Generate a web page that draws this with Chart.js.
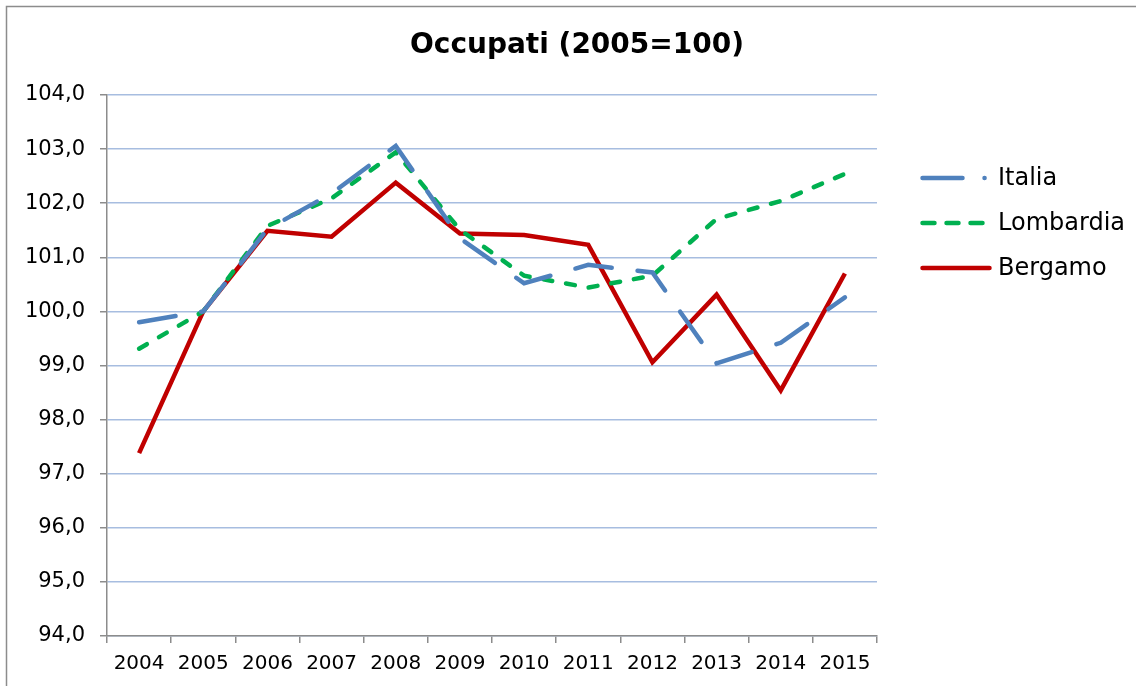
<!DOCTYPE html>
<html>
<head>
<meta charset="utf-8">
<script src="https://cdn.jsdelivr.net/npm/chart.js@4.4.1/dist/chart.umd.min.js"></script>
<style>
  html, body { margin: 0; padding: 0; background: #fff; overflow: hidden; }
  #wrap { width: 1136px; height: 686px; position: relative; }
</style>
</head>
<body>
<div id="wrap"><canvas id="occupatiChart" width="1136" height="686"></canvas></div>
<script>
// ========== DATI ==========
const anni = ['2004', '2005', '2006', '2007', '2008', '2009', '2010', '2011', '2012', '2013', '2014', '2015'];
const italia =     [99.80, 100.0, 101.52, 102.18, 103.06, 101.35, 100.52, 100.86, 100.72, 99.04, 99.42, 100.26];
const lombardia =  [99.31, 100.0, 101.58, 102.09, 102.94, 101.51, 100.66, 100.44, 100.66, 101.71, 102.04, 102.54];
const bergamo =    [97.38, 100.0, 101.49, 101.38, 102.38, 101.44, 101.41, 101.23, 99.06, 100.31, 98.54, 100.70];
const serie = ['Italia', 'Lombardia', 'Bergamo'];
const titolo = 'Occupati (2005=100)';
const yMin = 94, yMax = 104;

// bordo esterno + titolo
const bordoPlugin = {
    id: 'bordo',
    beforeDraw(chart) {
        const c = chart.ctx;
        c.save();
        c.fillStyle = '#fff';
        c.fillRect(0, 0, chart.width, chart.height);
        c.strokeStyle = '#8c8c8c';
        c.lineWidth = 1.5;
        c.strokeRect(6.5, 6.5, 2000, 2000);
        c.fillStyle = '#000';
        c.font = 'bold 28px "DejaVu Sans"';
        c.textAlign = 'center';
        c.textBaseline = 'middle';
        c.fillText(titolo, 577, 46);
        c.restore();
    }
};

// legenda disegnata a destra
const legendaPlugin = {
    id: 'legenda',
    afterDraw(chart) {
        const c = chart.ctx;
        const x0 = 922.5, x1 = 989.5, xt = 998;
        const ys = [178, 223, 268];
        c.save();
        chart.data.datasets.forEach((ds, i) => {
            c.beginPath();
            c.strokeStyle = ds.borderColor;
            c.lineWidth = ds.borderWidth;
            c.lineCap = 'round';
            c.setLineDash(ds.legendDash);
            c.moveTo(x0, ys[i]);
            c.lineTo(x1, ys[i]);
            c.stroke();
            c.setLineDash([]);
            c.fillStyle = '#000';
            c.font = '24px "DejaVu Sans"';
            c.textBaseline = 'middle';
            c.textAlign = 'left';
            c.fillText(ds.label, xt, ys[i] + 1);
        });
        c.restore();
    }
};

new Chart(document.getElementById('occupatiChart').getContext('2d'), {
    type: 'line',
    data: {
        labels: anni,
        datasets: [
            {
                label: serie[0],
                data: italia,
                borderColor: '#4F81BD',
                borderWidth: 4.5,
                borderDash: [37, 26],
                borderCapStyle: 'round',
                legendDash: [40, 22, 0.1, 22],
                pointRadius: 0,
                tension: 0,
                fill: false
            },
            {
                label: serie[1],
                data: lombardia,
                borderColor: '#00B050',
                borderWidth: 4.5,
                borderDash: [9, 14],
                borderCapStyle: 'round',
                legendDash: [12, 12],
                pointRadius: 0,
                tension: 0,
                fill: false
            },
            {
                label: serie[2],
                data: bergamo,
                borderColor: '#C00000',
                borderWidth: 4.5,
                borderJoinStyle: 'miter',
                legendDash: [],
                pointRadius: 0,
                tension: 0,
                fill: false
            }
        ]
    },
    options: {
        responsive: false,
        animation: false,
        layout: { padding: { left: 0, right: 259, top: 95, bottom: 0 } },
        plugins: {
            legend: { display: false },
            tooltip: { enabled: false },
            title: { display: false }
        },
        scales: {
            x: {
                type: 'category',
                offset: true,
                grid: {
                    offset: true,
                    drawOnChartArea: false,
                    drawTicks: true,
                    tickLength: 7,
                    tickColor: '#8c8c8c',
                    lineWidth: 1.5
                },
                border: { color: '#8c8c8c', width: 1.5 },
                ticks: {
                    color: '#000',
                    font: { size: 20, family: 'DejaVu Sans' },
                    padding: 9,
                    maxRotation: 0,
                    autoSkip: false
                },
                afterFit(scale) { scale.height = 50; }
            },
            y: {
                min: yMin,
                max: yMax,
                ticks: {
                    stepSize: 1,
                    color: '#000',
                    font: { size: 21, family: 'DejaVu Sans' },
                    padding: 15,
                    callback: function(value) {
                        return value.toFixed(1).replace('.', ',');
                    }
                },
                grid: {
                    color: '#A7BDE0',
                    lineWidth: 1.5,
                    tickColor: '#8c8c8c',
                    tickLength: 7
                },
                border: { color: '#8c8c8c', width: 1.5 },
                afterFit(scale) { scale.width = 107; }
            }
        }
    },
    plugins: [bordoPlugin, legendaPlugin]
});
</script>
</body>
</html>
